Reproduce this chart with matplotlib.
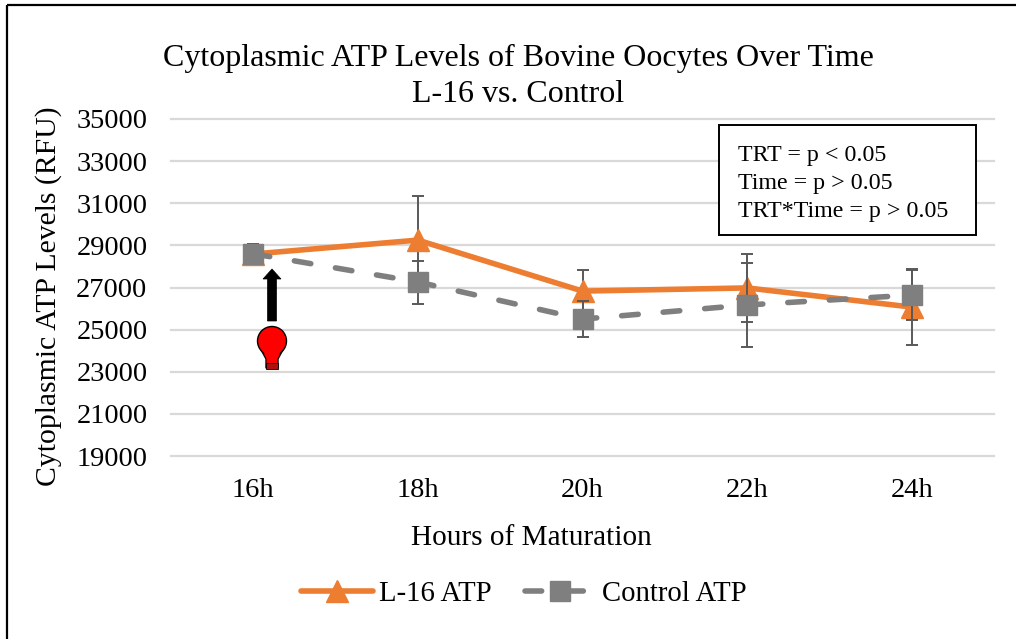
import matplotlib
matplotlib.use("Agg")
import matplotlib.pyplot as plt
from matplotlib.patches import Circle, FancyArrow, Polygon, Rectangle

plt.rcParams["font.family"] = ["Liberation Serif", "DejaVu Serif"]

W, H = 1016, 639

hours = ["16h", "18h", "20h", "22h", "24h"]
l16_atp = [28590, 29250, 26830, 26980, 26070]
l16_err = [250, 2090, 1000, 1600, 1800]
control_atp = [28600, 27260, 25500, 26170, 26640]
control_err = [450, 1020, 850, 2000, 1200]
y_ticks = [19000, 21000, 23000, 25000, 27000, 29000, 31000, 33000, 35000]

ORANGE = "#ed7d31"
GRAY = "#7f7f7f"
ERR = "#595959"


def px_axes(fig, left, top, right, bottom):
    return fig.add_axes([left / W, 1 - bottom / H, (right - left) / W, (bottom - top) / H])


fig = plt.figure(figsize=(W / 100, H / 100), dpi=100)

# outer frame and annotation overlay work in image pixels
bg = fig.add_axes([0, 0, 1, 1], zorder=0)
bg.set_xlim(0, W)
bg.set_ylim(H, 0)
bg.axis("off")
bg.add_patch(Rectangle((7, 5), W + 20, H + 20, fill=False, edgecolor="black", linewidth=1.6))

ax = px_axes(fig, 171, 119, 994, 456)
ax.set_zorder(1)
ax.patch.set_alpha(0)
x = list(range(len(hours)))

ax.errorbar(x, l16_atp, yerr=l16_err, color=ORANGE, ecolor=ERR, elinewidth=1.4, capsize=4.3,
            capthick=1.4, linewidth=4, marker="^", markersize=16, markeredgecolor=ORANGE,
            solid_capstyle="round", label="L-16 ATP", zorder=3)
ax.errorbar(x, control_atp, yerr=control_err, color=GRAY, ecolor=ERR, elinewidth=1.4, capsize=4.3,
            capthick=1.4, linewidth=4, marker="s", markersize=14, markeredgecolor=GRAY,
            dashes=(3.0, 4.5), dash_capstyle="round", label="Control ATP", zorder=4)

ax.set_xlim(-0.5, 4.5)
ax.set_ylim(19000, 35000)
ax.set_yticks(y_ticks)
ax.set_xticks(x)
ax.set_xticklabels(hours)
ax.tick_params(length=0, labelsize=20.4, pad=16)
ax.tick_params(axis="y", pad=17)
ax.grid(axis="y", color="#d9d9d9", linewidth=1.6, clip_on=False)
ax.set_axisbelow(True)
for spine in ax.spines.values():
    spine.set_visible(False)

handles, labels = ax.get_legend_handles_labels()
handles = [h[0] for h in handles]
fig.legend(handles, labels, loc="center", bbox_to_anchor=(524 / W, 1 - 594 / H), ncol=2, frameon=False,
           fontsize=20.7, handlelength=2.5, handletextpad=0.2, columnspacing=1.15, borderpad=0)

fig.text(518 / W, 1 - 58 / H, "Cytoplasmic ATP Levels of Bovine Oocytes Over Time", fontsize=23,
         ha="center", va="center")
fig.text(518 / W, 1 - 94 / H, "L-16 vs. Control", fontsize=23, ha="center", va="center")
fig.text(49 / W, 1 - 296 / H, "Cytoplasmic ATP Levels (RFU)", fontsize=21.4, rotation=90,
         ha="center", va="center")
fig.text(531 / W, 1 - 538 / H, "Hours of Maturation", fontsize=21.1, ha="center", va="center")

over = fig.add_axes([0, 0, 1, 1], zorder=5)
over.set_xlim(0, W)
over.set_ylim(H, 0)
over.axis("off")

# stats box
over.add_patch(Rectangle((719, 125), 257, 110, facecolor="white", edgecolor="black", linewidth=1.4))
for ypos, line in zip([155, 183, 211], ["TRT = p < 0.05", "Time = p > 0.05", "TRT*Time = p > 0.05"]):
    over.text(738, ypos, line, fontsize=17.3, va="center", ha="left")

# arrow and red bulb
over.add_patch(FancyArrow(272, 321, 0, -52, width=9, head_width=18, head_length=10,
                          length_includes_head=True, facecolor="black", edgecolor="black", linewidth=0.5))
neck = [(259.5, 347), (266, 359), (266, 368), (278, 368), (278, 359), (284.5, 347)]
over.add_patch(Polygon(neck, closed=True, facecolor="#ff0000", edgecolor="black", linewidth=1))
over.add_patch(Circle((272, 341), 14.5, facecolor="#ff0000", edgecolor="black", linewidth=1))
over.add_patch(Polygon([(261, 346), (283, 346), (277.3, 359), (277.3, 367), (266.7, 367), (266.7, 359)],
                       closed=True, facecolor="#ff0000", edgecolor="none"))
over.add_patch(Rectangle((266, 363), 12, 6, facecolor="#b01010", edgecolor="black", linewidth=0.6))

fig.savefig("out.png", dpi=100)
